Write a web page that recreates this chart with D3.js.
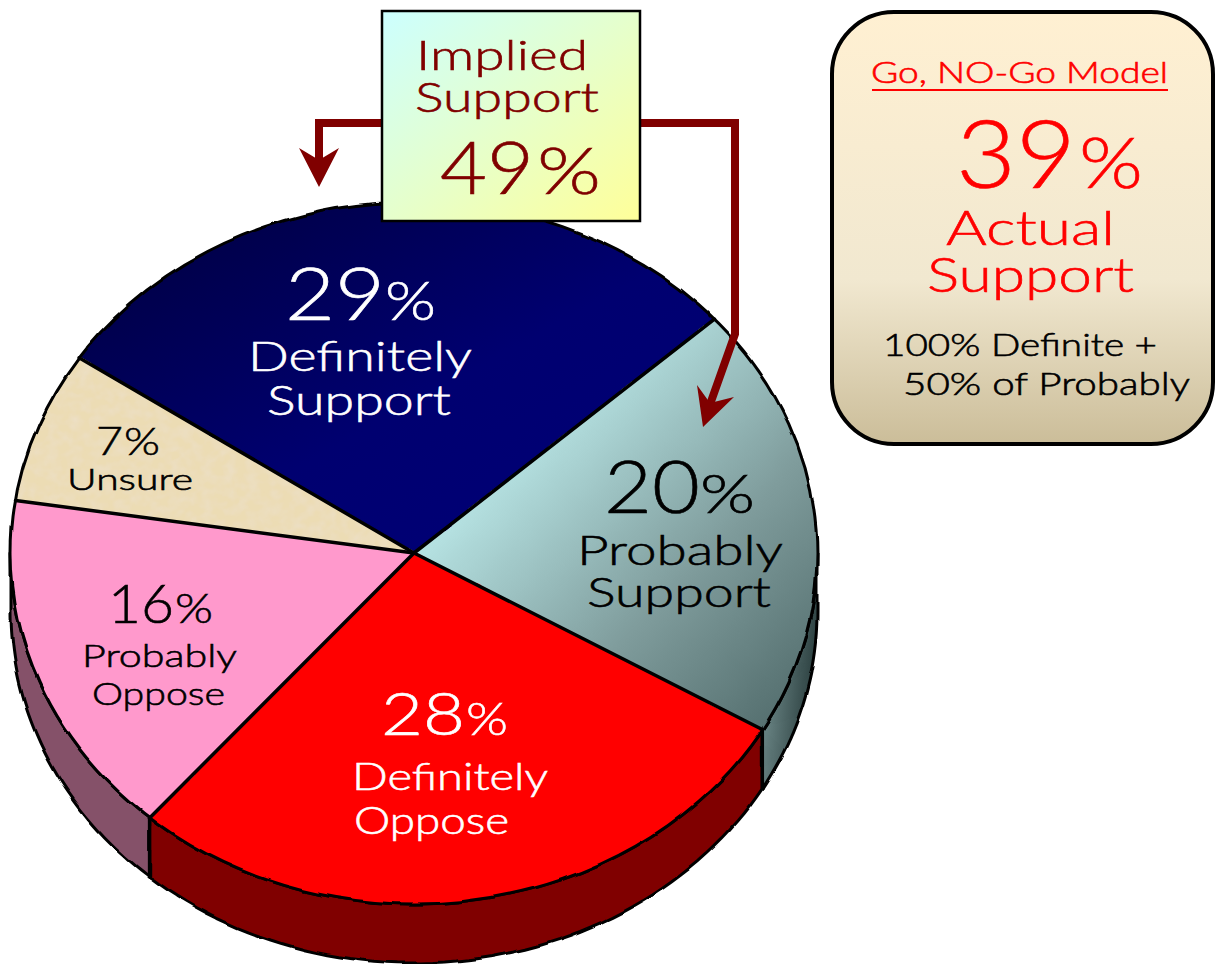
<!DOCTYPE html>
<html>
<head>
<meta charset="utf-8">
<script src="https://cdn.jsdelivr.net/npm/d3@7"></script>
<style>
  html, body { margin: 0; padding: 0; background: #fff; overflow: hidden; }
  text { font-family: "Lato", "Open Sans", sans-serif; font-weight: 300; }
</style>
</head>
<body>
<div id="chart"></div>
<script>
// Chart values
var categories = ["Definitely Support", "Probably Support", "Definitely Oppose", "Probably Oppose", "Unsure"];
var values = [29, 20, 28, 16, 7];
var topColors = ["url(#blueTop)", "url(#tealTop)", "#ff0000", "#ff99cc", "#ecdcb4"];
var sideColors = ["#000040", "url(#tealSide)", "#800000", "#855169", "#8a7d5c"];

// Define SVG dimensions
var svgWidth = 1215;
var svgHeight = 964;

// Pie geometry
var cx = 414, cy = 553, rx = 403, ry = 351, depth = 59;
var startDeg = 303.8;

var svg = d3.select("#chart")
.append("svg")
.attr("width", svgWidth)
.attr("height", svgHeight);

var defs = svg.append("defs");

function gradient(id, x1, y1, x2, y2, stops) {
    var g = defs.append("linearGradient").attr("id", id)
    .attr("x1", x1).attr("y1", y1).attr("x2", x2).attr("y2", y2);
    stops.forEach(function(s) {
        g.append("stop").attr("offset", s[0]).attr("stop-color", s[1]);
    });
}

gradient("blueTop", 0, 0, 1, 1, [[0, "#00003c"], [0.55, "#000070"], [1, "#000078"]]);
gradient("tealTop", 0, 0, 1, 1, [[0, "#ccf4f4"], [0.3, "#b4e0e0"], [0.65, "#7f9c9c"], [1, "#4c6666"]]);
gradient("tealSide", 0, 0, 1, 0.4, [[0, "#7f9c9c"], [1, "#2c4040"]]);
gradient("impliedBox", 0, 0, 1, 1, [[0, "#ccffff"], [1, "#ffff99"]]);
gradient("modelBox", 0, 0, 0, 1, [[0, "#fff0d2"], [0.62, "#f1e8d0"], [1, "#cbbd99"]]);

// Mottled texture for the Unsure slice
var mottle = defs.append("filter").attr("id", "mottle")
.attr("x", 0).attr("y", 0).attr("width", 1).attr("height", 1);
mottle.append("feTurbulence")
.attr("type", "fractalNoise").attr("baseFrequency", 0.09).attr("numOctaves", 2).attr("seed", 4).attr("result", "n");
mottle.append("feColorMatrix").attr("in", "n").attr("type", "matrix")
.attr("values", "0 0 0 0 0.84  0 0 0 0 0.74  0 0 0 0 0.56  1.6 0 0 0 -0.55").attr("result", "c");
mottle.append("feComposite").attr("in", "c").attr("in2", "SourceGraphic").attr("operator", "in").attr("result", "t");
mottle.append("feMerge").selectAll("feMergeNode")
.data(["SourceGraphic", "t"]).enter().append("feMergeNode").attr("in", d => d);

// Bumpy rim of the pie
var rough = defs.append("filter").attr("id", "rough")
.attr("filterUnits", "userSpaceOnUse")
.attr("color-interpolation-filters", "sRGB")
.attr("x", 0).attr("y", 0).attr("width", svgWidth).attr("height", svgHeight);
rough.append("feTurbulence")
.attr("type", "fractalNoise").attr("baseFrequency", 0.035).attr("numOctaves", 1).attr("seed", 7).attr("result", "w");
rough.append("feDisplacementMap")
.attr("in", "SourceGraphic").attr("in2", "w").attr("scale", 6)
.attr("xChannelSelector", "R").attr("yChannelSelector", "G");

// Slices come from the values
var pie = d3.pie()
.sort(null)
.value(d => d)
.startAngle(startDeg * Math.PI / 180)
.endAngle((startDeg + 360) * Math.PI / 180);
var slices = pie(values);

var arc = d3.arc().innerRadius(0).outerRadius(rx);

function ellipsePoint(a, drop) {
    return [cx + rx * Math.sin(a), cy - ry * Math.cos(a) + drop];
}

// Outer wall of a slice, only the part facing the viewer
var line = d3.line();
function wallAngles(d) {
    var lo = Math.PI / 2, hi = 3 * Math.PI / 2;
    var a0 = d.startAngle, a1 = d.endAngle;
    // angles past a full turn wrap back
    if (a0 > 2 * Math.PI) { a0 -= 2 * Math.PI; a1 -= 2 * Math.PI; }
    return [Math.max(a0, lo), Math.min(a1, hi)];
}
function wall(d) {
    var a = wallAngles(d);
    if (a[1] <= a[0]) return null;
    var steps = d3.range(0, 61).map(i => a[0] + (a[1] - a[0]) * i / 60);
    var pts = steps.map(t => ellipsePoint(t, 0))
    .concat(steps.slice().reverse().map(t => ellipsePoint(t, depth)));
    return line(pts) + "Z";
}

var pieGroup = svg.append("g").attr("filter", "url(#rough)");

pieGroup.append("g").selectAll("path")
.data(slices)
.enter()
.append("path")
.attr("d", wall)
.attr("fill", (d, i) => sideColors[i])
.attr("stroke", "#000")
.attr("stroke-width", 3)
.attr("stroke-linejoin", "round");

var topGroup = pieGroup.append("g")
.attr("transform", `translate(${cx}, ${cy}) scale(1, ${ry / rx})`);

topGroup.selectAll("path")
.data(slices)
.enter()
.append("path")
.attr("d", arc)
.attr("fill", (d, i) => topColors[i])
.attr("filter", (d, i) => categories[i] == "Unsure" ? "url(#mottle)" : null);

// rim of the top face
topGroup.append("path")
.attr("d", d3.arc().innerRadius(rx).outerRadius(rx).startAngle(0).endAngle(2 * Math.PI)())
.attr("fill", "none")
.attr("stroke", "#000")
.attr("stroke-width", 3)
.attr("vector-effect", "non-scaling-stroke");

// Straight spokes stay clean, they go over the bumpy group
var spokes = svg.append("g")
.attr("stroke", "#000")
.attr("stroke-width", 3.5)
.attr("stroke-linecap", "round");

spokes.selectAll("line")
.data(slices)
.enter()
.append("line")
.attr("x1", cx)
.attr("y1", cy)
.attr("x2", d => ellipsePoint(d.startAngle, 0)[0])
.attr("y2", d => ellipsePoint(d.startAngle, 0)[1]);

// Vertical edges where a wall meets the next wall
spokes.selectAll("line.edge")
.data(slices.filter(function(d) {
    var a = d.startAngle % (2 * Math.PI);
    return a > Math.PI / 2 && a < 3 * Math.PI / 2;
}))
.enter()
.append("line")
.attr("class", "edge")
.attr("x1", d => ellipsePoint(d.startAngle, 0)[0])
.attr("y1", d => ellipsePoint(d.startAngle, 0)[1])
.attr("x2", d => ellipsePoint(d.startAngle, depth)[0])
.attr("y2", d => ellipsePoint(d.startAngle, depth)[1]);

// Connector lines from the Implied Support box
var dark = "#800000";
var connectors = [
    [[382, 123], [319, 123], [319, 165]],
    [[640, 123], [735, 123], [735, 334], [708, 410]]
];
var arrowHeads = [
    [[299, 148], [319, 187], [339, 148], [319, 160]],
    [[697, 385], [703, 427], [734, 397], [710, 403]]
];
svg.append("g").selectAll("path")
.data(connectors)
.enter()
.append("path")
.attr("d", line)
.attr("fill", "none")
.attr("stroke", dark)
.attr("stroke-width", 8);

svg.append("g").selectAll("path")
.data(arrowHeads)
.enter()
.append("path")
.attr("d", d => line(d) + "Z")
.attr("fill", dark);

// Boxes
svg.append("rect")
.attr("x", 382).attr("y", 11).attr("width", 258).attr("height", 210)
.attr("fill", "url(#impliedBox)")
.attr("stroke", "#000").attr("stroke-width", 2.5);

svg.append("rect")
.attr("x", 832).attr("y", 12).attr("width", 381).attr("height", 432).attr("rx", 62)
.attr("fill", "url(#modelBox)")
.attr("stroke", "#000").attr("stroke-width", 4);

svg.append("line")
.attr("x1", 872).attr("x2", 1168).attr("y1", 90).attr("y2", 90)
.attr("stroke", "#ff0000").attr("stroke-width", 2);

// Text runs: string, left edge, right edge, baseline, font size, colour
var textRuns = [
    ["Implied", 416, 588, 70, 42, dark],
    ["Support", 415, 599, 112, 42, dark],
    ["49", 440, 534, 194, 72, dark],
    ["%", 537, 601, 194, 66, dark],

    ["Go, NO-Go Model", 871, 1168, 83, 30, "#ff0000"],
    ["39", 956, 1076, 188, 94, "#ff0000"],
    ["%", 1079, 1143, 188, 70, "#ff0000"],
    ["Actual", 946, 1115, 245, 48, "#ff0000"],
    ["Support", 927, 1134, 292, 48, "#ff0000"],
    ["100% Definite +", 883, 1157, 356, 31, "#000"],
    ["50% of Probably", 903, 1190, 395, 31, "#000"],

    ["29", 285, 385, 320, 72, "#fff"],
    ["%", 385, 436, 320, 54, "#fff"],
    ["Definitely", 248, 472, 371, 41, "#fff"],
    ["Support", 267, 451, 415, 41, "#fff"],

    ["20", 604, 700, 513, 72, "#000"],
    ["%", 700, 755, 513, 54, "#000"],
    ["Probably", 577, 783, 565, 41, "#000"],
    ["Support", 587, 771, 607, 41, "#000"],

    ["28", 381, 465, 735, 60, "#fff"],
    ["%", 466, 508, 735, 46, "#fff"],
    ["Definitely", 352, 548, 790, 37, "#fff"],
    ["Oppose", 354, 509, 834, 37, "#fff"],

    ["16", 108, 174, 623, 53, "#000"],
    ["%", 175, 213, 623, 41, "#000"],
    ["Probably", 82, 237, 667, 32, "#000"],
    ["Oppose", 92, 225, 705, 32, "#000"],

    ["7", 96, 123, 455, 40, "#000"],
    ["%", 124, 160, 455, 38, "#000"],
    ["Unsure", 67, 193, 490, 30, "#000"]
];

svg.append("g").selectAll("text")
.data(textRuns)
.enter()
.append("text")
.text(d => d[0])
.attr("x", d => d[1])
.attr("y", d => d[3])
.attr("textLength", d => d[2] - d[1])
.attr("lengthAdjust", "spacingAndGlyphs")
.attr("font-size", d => d[4])
.attr("fill", d => d[5])
.attr("stroke", d => d[5])
.attr("stroke-width", 0.6);
</script>
</body>
</html>
